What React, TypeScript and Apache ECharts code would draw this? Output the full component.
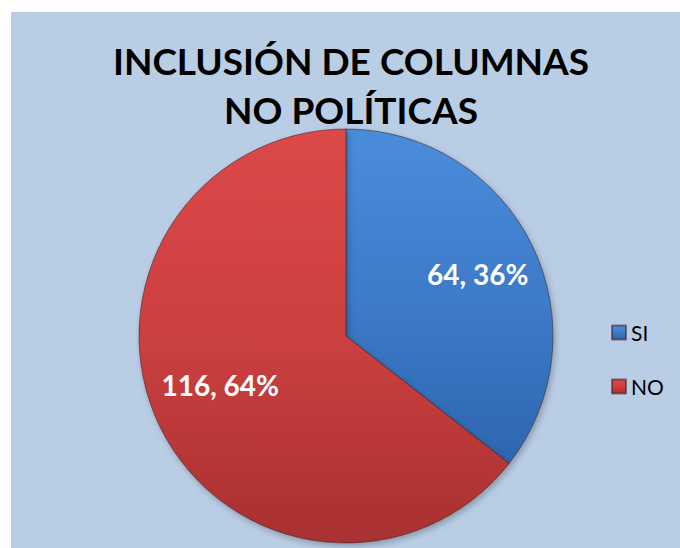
import React, { useEffect, useRef } from "react";
import * as echarts from "echarts";

const categories = ["SI", "NO"];
const values = [64, 116];
const percents = ["36%", "64%"];
const titleLines = ["INCLUSIÓN DE COLUMNAS", "NO POLÍTICAS"];

const FONT = "Lato, 'Open Sans', sans-serif";

export default function App() {
  const ref = useRef<HTMLDivElement>(null);
  useEffect(() => {
    const chart = echarts.init(ref.current!, undefined, { renderer: "svg" });
    const blue = new echarts.graphic.LinearGradient(0, 0, 0, 1, [
      { offset: 0, color: "#4A8CDC" },
      { offset: 0.5, color: "#3D7BC9" },
      { offset: 1, color: "#2E66B0" },
    ]);
    const red = new echarts.graphic.LinearGradient(0, 0, 0, 1, [
      { offset: 0, color: "#DC4848" },
      { offset: 0.5, color: "#CC4040" },
      { offset: 1, color: "#A83030" },
    ]);
    const colors = [blue, red];
    const offsets = [
      [36, -15],
      [-30, 2],
    ];
    chart.setOption({
      animation: false,
      backgroundColor: "#FFFFFF",
      graphic: [
        {
          type: "rect",
          shape: { x: 11, y: 12, width: 680, height: 548 },
          style: { fill: "#B9CDE5" },
          z: -10,
        },
      ],
      title: {
        text: titleLines.join("\n"),
        left: 346,
        textAlign: "center",
        top: 31,
        textStyle: {
          fontFamily: FONT,
          fontWeight: "bold",
          fontSize: 37,
          lineHeight: 49,
          color: "#000000",
        },
      },
      legend: {
        orient: "vertical",
        left: 606,
        top: 317,
        icon: "rect",
        itemWidth: 14,
        itemHeight: 14,
        itemGap: 33,
        data: categories,
        textStyle: { fontFamily: FONT, fontSize: 21, color: "#000000", padding: [0, 0, 0, 0] },
      },
      series: [
        {
          type: "pie",
          center: [346, 336],
          radius: [0, 207],
          startAngle: 90,
          clockwise: true,
          itemStyle: {
            borderColor: "rgba(60,30,30,0.55)",
            borderWidth: 1,
            shadowBlur: 6,
            shadowOffsetX: 2,
            shadowOffsetY: 3,
            shadowColor: "rgba(0,0,0,0.25)",
          },
          label: {
            show: true,
            position: "inside",
            color: "#FFFFFF",
            fontFamily: FONT,
            fontWeight: "bold",
            fontSize: 28,
          },
          labelLine: { show: false },
          emphasis: { disabled: true },
          data: categories.map((c, i) => ({
            name: c,
            value: values[i],
            itemStyle: { color: colors[i] },
            label: {
              formatter: `${values[i]}, ${percents[i]}`,
              offset: offsets[i],
            },
          })),
        },
      ],
    });
    return () => chart.dispose();
  }, []);
  return (
    <div
      ref={ref}
      style={{ position: "fixed", left: 0, top: 0, width: 680, height: 548 }}
    />
  );
}
